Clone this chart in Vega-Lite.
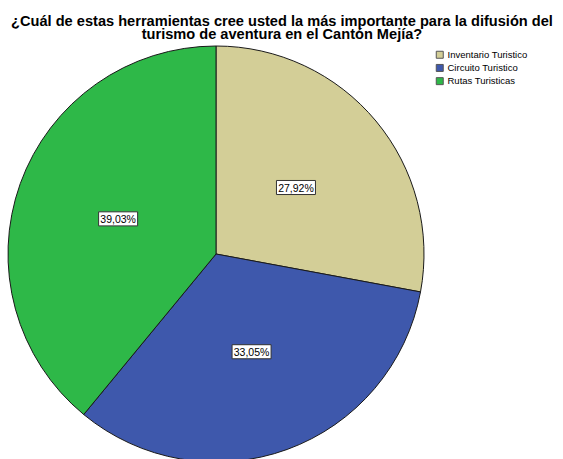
{
  "$schema": "https://vega.github.io/schema/vega-lite/v6.json",
  "autosize": "none",
  "width": 416,
  "height": 410,
  "padding": {"left": 8, "top": 49, "right": 139, "bottom": 0},
  "background": "white",
  "config": {"view": {"stroke": null}, "font": "Liberation Sans"},
  "title": {
    "text": ["¿Cuál de estas herramientas cree usted la más importante para la difusión del", "turismo de aventura en el Cantón Mejía?"],
    "font": "Liberation Sans",
    "fontSize": 14.6,
    "fontWeight": "bold",
    "color": "black",
    "lineHeight": 13,
    "anchor": "middle",
    "frame": "group",
    "dx": 66,
    "dy": 2,
    "offset": 4
  },
  "data": {
    "values": [
      {"categoria": "Inventario Turistico", "pct": 27.92, "orden": 1, "etiqueta": "27,92%"},
      {"categoria": "Circuito Turistico", "pct": 33.05, "orden": 2, "etiqueta": "33,05%"},
      {"categoria": "Rutas Turisticas", "pct": 39.03, "orden": 3, "etiqueta": "39,03%"}
    ]
  },
  "transform": [
    {"window": [{"op": "sum", "field": "pct", "as": "acum"}], "sort": [{"field": "orden"}], "frame": [null, 0]},
    {"calculate": "(datum.acum - datum.pct / 2) / 100 * 2 * PI", "as": "ang"},
    {"calculate": "sin(datum.ang)", "as": "lx"},
    {"calculate": "cos(datum.ang)", "as": "ly"}
  ],
  "layer": [
    {
      "mark": {"type": "arc", "outerRadius": 208, "stroke": "#1a1a1a", "strokeWidth": 1},
      "encoding": {
        "theta": {"field": "pct", "type": "quantitative", "stack": true},
        "order": {"field": "orden", "type": "quantitative"},
        "color": {
          "field": "categoria",
          "type": "nominal",
          "sort": ["Inventario Turistico", "Circuito Turistico", "Rutas Turisticas"],
          "scale": {"domain": ["Inventario Turistico", "Circuito Turistico", "Rutas Turisticas"], "range": ["#D3CE97", "#3E58AC", "#2EB848"]},
          "legend": {
            "orient": "none",
            "legendX": 427,
            "legendY": 1,
            "title": null,
            "symbolType": "square",
            "symbolSize": 49,
            "symbolStrokeColor": "#555555",
            "symbolStrokeWidth": 1,
            "symbolOpacity": 1,
            "labelFont": "Liberation Sans",
            "labelFontSize": 9.5,
            "labelColor": "black",
            "labelOffset": 3,
            "rowPadding": 1.2,
            "padding": 0
          }
        }
      }
    },
    {
      "mark": {"type": "point", "shape": "M-1,-0.36H1V0.36H-1Z", "size": 1521, "filled": true, "fill": "white", "stroke": "#333333", "strokeWidth": 1, "opacity": 1},
      "encoding": {
        "x": {"field": "lx", "type": "quantitative", "scale": {"domain": [-2, 2]}, "axis": null},
        "y": {"field": "ly", "type": "quantitative", "scale": {"domain": [-1.971, 1.971]}, "axis": null}
      }
    },
    {
      "mark": {"type": "text", "font": "Liberation Sans", "fontSize": 10.5, "color": "black", "align": "center", "baseline": "middle", "dy": 1},
      "encoding": {
        "x": {"field": "lx", "type": "quantitative", "scale": {"domain": [-2, 2]}, "axis": null},
        "y": {"field": "ly", "type": "quantitative", "scale": {"domain": [-1.971, 1.971]}, "axis": null},
        "text": {"field": "etiqueta", "type": "nominal"}
      }
    }
  ]
}
